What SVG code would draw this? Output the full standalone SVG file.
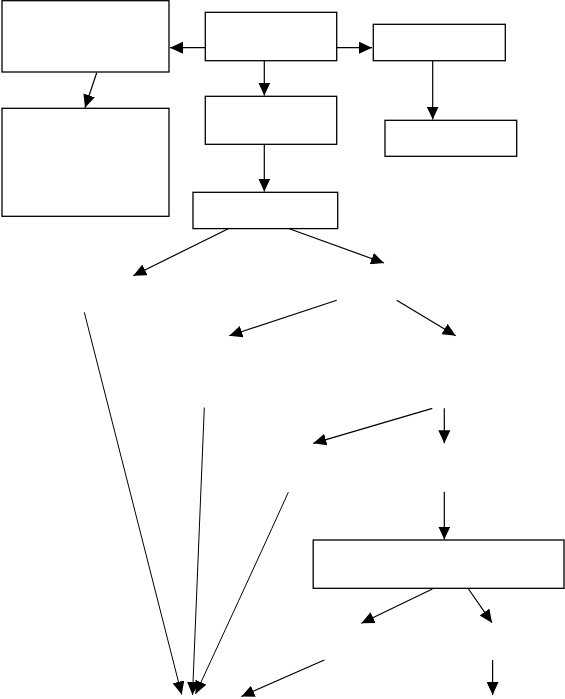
<svg xmlns="http://www.w3.org/2000/svg" width="565" height="699" viewBox="0 0 565 699">
<style>
.box{fill:#fff;stroke:#000;stroke-width:1.3}
.c{fill:none;stroke:#000;stroke-width:1.2;marker-end:url(#ah)}
.t{fill:none;stroke:#000;stroke-width:1;marker-end:url(#ah)}
</style>
<defs>
<marker id="ah" markerUnits="userSpaceOnUse" markerWidth="14" markerHeight="12" refX="13" refY="6" orient="auto" viewBox="0 0 14 12">
<path d="M0,0 L13,6 L0,12 z" fill="#000"/>
</marker>
</defs>
<rect width="565" height="699" fill="#fff"/>
<g id="nodes">
<g id="nA"><rect class="box" x="2" y="0.7" width="167" height="71.3"/></g>
<g id="nD"><rect class="box" x="2" y="108.3" width="167" height="108"/></g>
<g id="nB"><rect class="box" x="205.3" y="12.3" width="131.4" height="48.4"/></g>
<g id="nE"><rect class="box" x="205.3" y="96.3" width="131.4" height="48"/></g>
<g id="nG"><rect class="box" x="193" y="192.3" width="144.7" height="36.3"/></g>
<g id="nC"><rect class="box" x="373.3" y="24.3" width="132" height="36.4"/></g>
<g id="nF"><rect class="box" x="385" y="120.3" width="131.7" height="36"/></g>
<g id="nH"><rect class="box" x="313.2" y="540" width="250.8" height="48.3"/></g>
</g>
<g id="connectors">
<line class="c" x1="205" y1="47.7" x2="170" y2="47.7"/>
<line class="c" x1="336.7" y1="47.7" x2="372" y2="47.7"/>
<line class="c" x1="96.7" y1="72.7" x2="85" y2="107.7"/>
<line class="c" x1="264.3" y1="60.7" x2="264.3" y2="95.5"/>
<line class="c" x1="264.3" y1="144.3" x2="264.3" y2="191.5"/>
<line class="c" x1="432.7" y1="60.7" x2="432.7" y2="119.5"/>
<line class="c" x1="228.3" y1="228.7" x2="133.3" y2="275.7"/>
<line class="c" x1="289.3" y1="228.7" x2="384" y2="263"/>
<line class="c" x1="336.7" y1="300.3" x2="229.3" y2="335.7"/>
<line class="c" x1="396.7" y1="300.3" x2="455.7" y2="335.7"/>
<line class="c" x1="432.3" y1="408.3" x2="313.3" y2="443.3"/>
<line class="c" x1="444.3" y1="408.3" x2="444.3" y2="443.3"/>
<line class="c" x1="444.3" y1="491.7" x2="444.3" y2="539.5"/>
<line class="c" x1="432.4" y1="589" x2="361.4" y2="623.3"/>
<line class="c" x1="468.5" y1="589" x2="491.9" y2="622.7"/>
<line class="c" x1="324.3" y1="660" x2="241.4" y2="696.5"/>
<line class="c" x1="492.6" y1="660" x2="492.6" y2="695"/>
<line class="t" x1="84.3" y1="312.3" x2="181.7" y2="694.5"/>
<line class="t" x1="204.3" y1="407.5" x2="192.5" y2="695"/>
<path class="t" d="M288.3,492.3 Q260,555 195.5,694"/>
</g>
</svg>
